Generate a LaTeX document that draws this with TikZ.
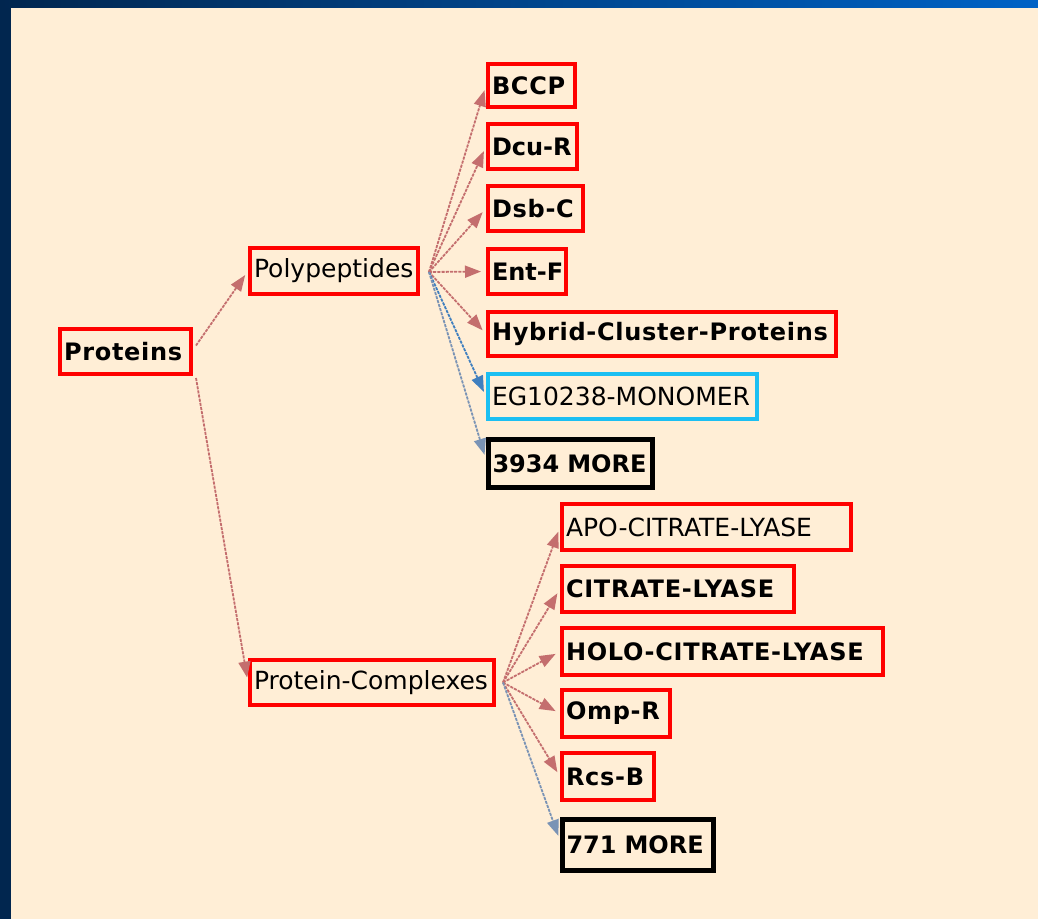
\documentclass[tikz,border=0pt]{standalone}
\usepackage{fontspec}
\setmainfont{DejaVu Sans}
\newfontfamily\spacedsans[LetterSpace=3]{DejaVu Sans}
\usetikzlibrary{arrows.meta}

\definecolor{pagebg}{HTML}{FFEED6}
\definecolor{navy}{HTML}{01264F}
\definecolor{barblue}{HTML}{0062C6}
\definecolor{boxred}{HTML}{FF0000}
\definecolor{boxcyan}{HTML}{1CBFF2}
\definecolor{linkred}{HTML}{C46E6E}
\definecolor{linkblue}{HTML}{3F7FBF}
\definecolor{linkgray}{HTML}{7A93B5}

\tikzset{
  box/.style={draw=boxred, line width=4pt, inner xsep=4pt, inner ysep=0pt,
    align=left, font=\fontsize{25}{30}\selectfont, text=black},
  boldbox/.style={box, font=\spacedsans\bfseries\fontsize{24}{30}\selectfont},
  tightbox/.style={box, font=\bfseries\fontsize{24}{30}\selectfont},
  cyanbox/.style={box, draw=boxcyan},
  morebox/.style={tightbox, draw=black, line width=5pt},
  link/.style={line width=1.8pt, dash pattern=on 3pt off 1.2pt,
    -{Triangle[length=16pt,width=12pt]}, shorten >=5pt},
  redlink/.style={link, draw=linkred, fill=linkred},
  bluelink/.style={link, draw=linkblue, fill=linkblue},
  graylink/.style={link, draw=linkgray, fill=linkgray},
}

\begin{document}
\begin{tikzpicture}[x=1pt, y=-1pt]
  % page and window frame
  \useasboundingbox (0,0) rectangle (1038,919);
  \fill[pagebg] (0,0) rectangle (1038,919);
  \fill[navy] (0,0) rectangle (11,919);
  \shade[left color=navy, right color=barblue] (0,0) rectangle (1038,7);

  % root and first level
  \node[boldbox, text width=123pt, minimum height=45pt] (proteins) at (125.5,351.5) {\mbox{Proteins}};
  \node[box, text width=160pt, minimum height=46pt] (polypeptides) at (334,271) {\mbox{Polypeptides}};
  \node[box, text width=236pt, minimum height=45pt] (complexes) at (372,682.5) {\mbox{Protein-Complexes}};

  % polypeptide children
  \node[boldbox, text width=79pt, minimum height=43pt] (bccp) at (531.5,85.5) {\mbox{BCCP}};
  \node[tightbox, text width=81pt, minimum height=45pt] (dcur) at (532.5,146.5) {\mbox{Dcu-R}};
  \node[boldbox, text width=87pt, minimum height=45pt] (dsbc) at (535.5,208.5) {\mbox{Dsb-C}};
  \node[tightbox, text width=70pt, minimum height=45pt] (entf) at (527,271.5) {\mbox{Ent-F}};
  \node[boldbox, text width=340pt, minimum height=44pt] (hybrid) at (662,334) {\mbox{Hybrid-Cluster-Proteins}};
  \node[cyanbox, text width=261pt, minimum height=45pt] (eg) at (622.5,396.5) {\mbox{EG10238-MONOMER}};
  \node[morebox, text width=156pt, minimum height=48pt] (moreA) at (570.5,463.5) {\mbox{3934 MORE}};

  % protein-complex children
  \node[box, text width=281pt, minimum height=46pt] (apo) at (706.5,527) {\mbox{APO-CITRATE-LYASE}};
  \node[boldbox, text width=224pt, minimum height=46pt] (citrate) at (678,589) {\mbox{CITRATE-LYASE}};
  \node[boldbox, text width=313pt, minimum height=47pt] (holo) at (722.5,651.5) {\mbox{HOLO-CITRATE-LYASE}};
  \node[boldbox, text width=100pt, minimum height=47pt] (ompr) at (616,713.5) {\mbox{Omp-R}};
  \node[boldbox, text width=84pt, minimum height=47pt] (rcsb) at (608,776.5) {\mbox{Rcs-B}};
  \node[morebox, text width=143pt, minimum height=51pt] (moreB) at (638,844.5) {\mbox{771 MORE}};

  % fan-out points
  \coordinate (protOutA) at ([xshift=3pt,yshift=6pt]proteins.east);
  \coordinate (protOutB) at ([xshift=3pt,yshift=-2pt]proteins.south east);
  \coordinate (ppOut) at ([xshift=9pt,yshift=-1pt]polypeptides.east);
  \coordinate (pcOut) at ([xshift=7pt]complexes.east);

  % connectors
  \draw[redlink] (protOutA) -- (polypeptides.west);
  \draw[redlink] (protOutB) -- (complexes.west);

  \draw[redlink] (ppOut) -- (bccp.west);
  \draw[redlink] (ppOut) -- (dcur.west);
  \draw[redlink] (ppOut) -- (dsbc.west);
  \draw[redlink] (ppOut) -- (entf.west);
  \draw[redlink] (ppOut) -- (hybrid.west);
  \draw[bluelink] (ppOut) -- (eg.west);
  \draw[graylink] (ppOut) -- ([yshift=4pt]moreA.west);

  \draw[redlink] (pcOut) -- (apo.west);
  \draw[redlink] (pcOut) -- (citrate.west);
  \draw[redlink] (pcOut) -- (holo.west);
  \draw[redlink] (pcOut) -- (ompr.west);
  \draw[redlink] (pcOut) -- (rcsb.west);
  \draw[graylink] (pcOut) -- ([yshift=4pt]moreB.west);
\end{tikzpicture}
\end{document}
